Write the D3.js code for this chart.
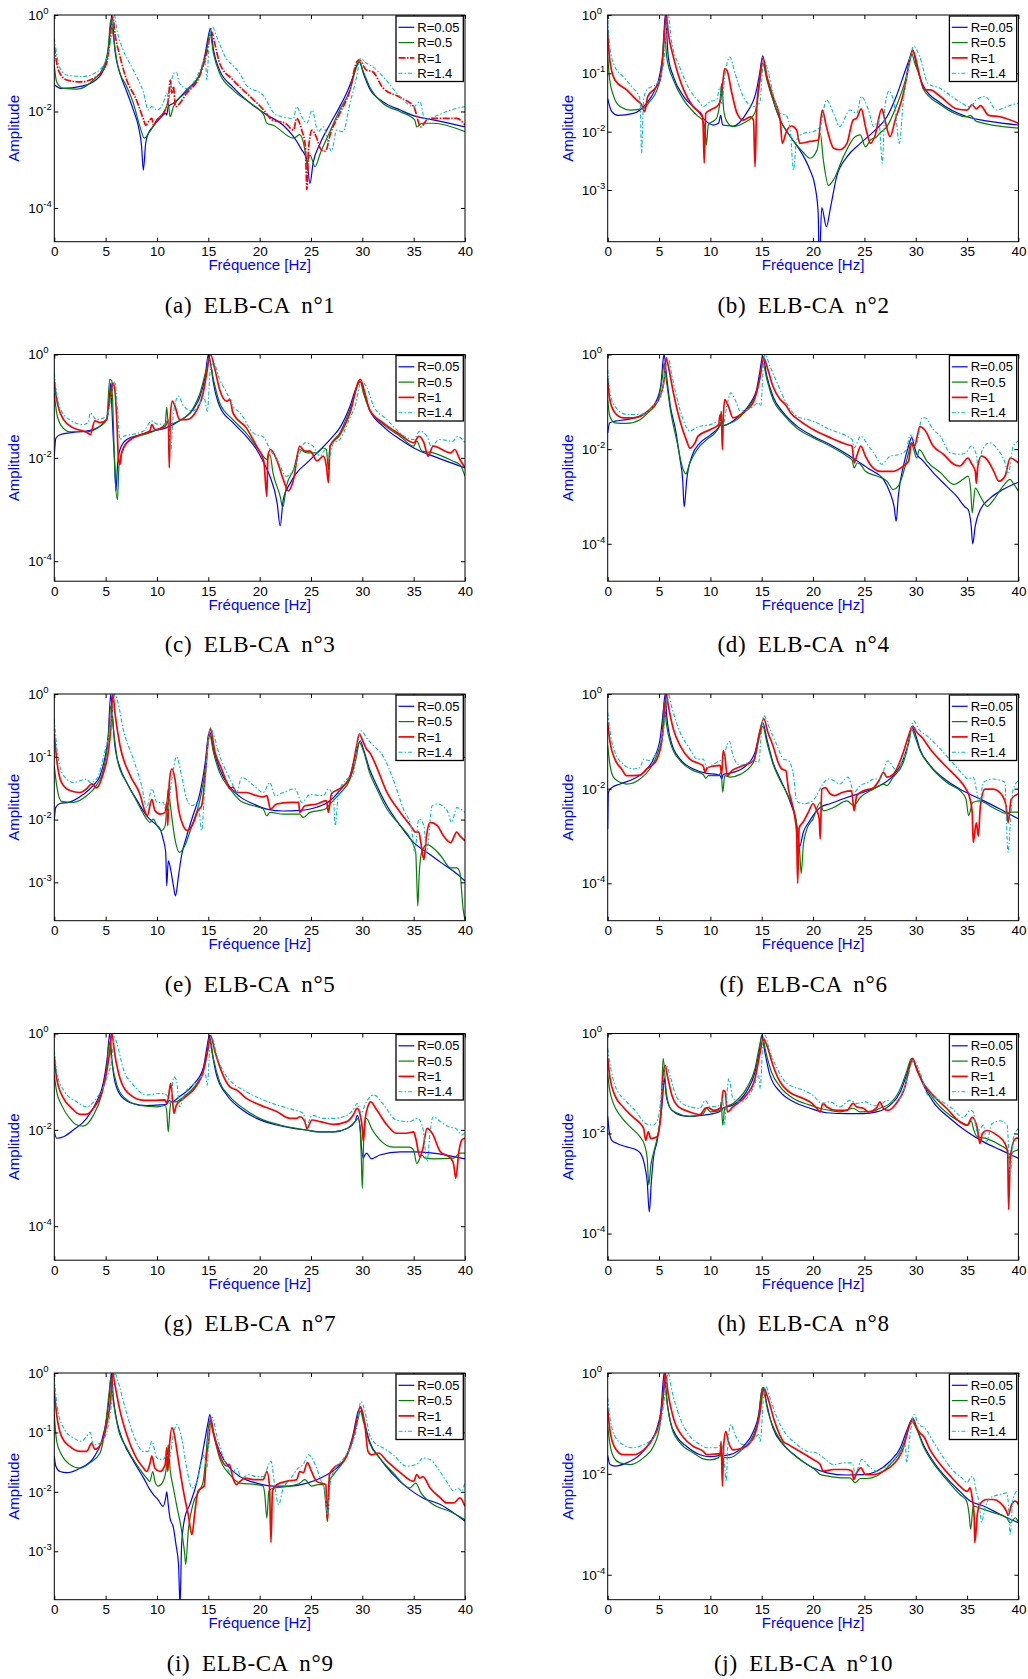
<!DOCTYPE html>
<html><head><meta charset="utf-8">
<script src="https://cdn.jsdelivr.net/npm/d3@7"></script>
<style>
html,body{margin:0;padding:0;background:#fff;}
svg{display:block;}
</style>
</head><body>
<svg id="fig" width="1028" height="1679"></svg>
<script>
// ---------- DATA : [frequency Hz, amplitude] ----------
const elb1_r005 = [[0,0.036],[0.7,0.030],[2.8,0.034],[4.4,0.053],[5.1,0.117],[5.4,0.36],[5.6,1.0],[5.9,0.19],[6.4,0.062],[7.05,0.026],[7.7,0.0107],[8.2,0.0048],[8.5,0.0019],[8.67,0.00061],[8.9,0.0022],[9.15,0.0035],[9.6,0.0048],[10.3,0.0072],[10.85,0.0091],[10.95,0.0085],[11.1,0.0126],[11.6,0.0148],[12.9,0.028],[14.2,0.062],[14.7,0.16],[15.0,0.36],[15.2,0.53],[15.5,0.19],[16.1,0.072],[17.4,0.032],[19.1,0.0148],[20.7,0.0085],[22.3,0.0052],[23.3,0.0030],[24.1,0.0016],[24.6,0.00099],[24.9,0.00032],[25.2,0.00084],[25.9,0.0022],[26.9,0.0057],[27.8,0.0126],[28.6,0.028],[29.1,0.053],[29.4,0.085],[29.7,0.108],[30.1,0.062],[30.7,0.030],[32,0.016],[33.7,0.0107],[35.3,0.0078],[36.9,0.0067],[40,0.0048]];
const elb1_r05 = [[0,0.092],[0.23,0.041],[0.9,0.030],[2.2,0.029],[3.8,0.045],[4.8,0.085],[5.26,0.22],[5.5,0.8],[5.75,0.36],[6.2,0.085],[7.05,0.033],[7.7,0.0148],[8.35,0.0048],[8.77,0.0028],[9.3,0.0038],[10,0.0067],[10.8,0.0107],[11.1,0.0148],[11.27,0.0078],[11.6,0.0126],[12.9,0.026],[14.2,0.062],[14.84,0.19],[15.16,0.42],[15.5,0.16],[16.1,0.062],[17.4,0.028],[19.1,0.0148],[20.4,0.0085],[20.7,0.0057],[21.3,0.0052],[23.3,0.0028],[23.9,0.0033],[24.4,0.0016],[24.6,0.00084],[24.9,0.00125],[25.4,0.00072],[25.9,0.00135],[26.9,0.0041],[27.8,0.0107],[28.8,0.028],[29.45,0.085],[29.7,0.108],[30.1,0.067],[30.7,0.033],[32,0.0148],[33.7,0.0099],[35.1,0.0067],[35.3,0.0048],[35.8,0.0057],[36.9,0.0057],[40,0.0038]];
const elb1_r1 = [[0,0.22],[0.4,0.072],[1.2,0.045],[2.5,0.041],[4.1,0.053],[5.1,0.1],[5.4,0.26],[5.7,0.92],[5.9,0.42],[6.4,0.137],[7.05,0.045],[8.0,0.0173],[8.7,0.0067],[8.9,0.0052],[9.3,0.0067],[9.5,0.0072],[9.65,0.0052],[10,0.0067],[10.8,0.0107],[11.1,0.0173],[11.3,0.045],[11.45,0.024],[11.6,0.033],[11.8,0.0126],[12.9,0.024],[14.2,0.057],[14.84,0.16],[15.3,0.45],[15.7,0.22],[16.1,0.1],[17.4,0.045],[19.1,0.020],[20.4,0.0107],[21.2,0.0067],[22.5,0.0057],[23.3,0.0041],[23.6,0.0072],[24.1,0.0041],[24.45,0.0019],[24.6,0.00024],[24.75,0.0016],[25.1,0.0041],[25.5,0.0030],[26.0,0.0016],[26.4,0.0015],[26.9,0.0035],[27.8,0.0091],[28.8,0.028],[29.4,0.1],[29.7,0.117],[30.4,0.072],[31.0,0.067],[32,0.031],[33.7,0.0195],[35,0.0126],[35.7,0.0048],[36.3,0.0067],[37,0.0072],[39.2,0.0072],[40,0.0052]];
const elb1_r14 = [[0,0.33],[0.55,0.08],[1.2,0.057],[2.8,0.053],[4.4,0.072],[5.4,0.22],[5.85,1.0],[6.1,0.49],[6.7,0.19],[7.7,0.072],[8.7,0.024],[9.15,0.0107],[9.5,0.0126],[10,0.0107],[10.6,0.0148],[10.95,0.024],[11.1,0.0173],[11.6,0.062],[11.9,0.065],[12.2,0.038],[12.9,0.030],[14.2,0.072],[14.7,0.126],[14.85,0.045],[15.1,0.3],[15.4,0.57],[15.8,0.36],[16.8,0.12],[17.4,0.09],[18.1,0.06],[18.7,0.035],[20.3,0.022],[21.6,0.0085],[23.3,0.0072],[23.6,0.0126],[24.1,0.0078],[24.6,0.0057],[25.1,0.0107],[25.7,0.0038],[26.2,0.0048],[27,0.0015],[27.5,0.0041],[28.1,0.0038],[28.8,0.0148],[29.45,0.053],[29.8,0.126],[30.4,0.1],[31,0.085],[32.3,0.045],[33.7,0.020],[35,0.0126],[35.6,0.016],[36.1,0.0067],[37,0.0078],[38.6,0.0107],[40,0.0126]];

const elb2_r005 = [[0,0.037],[0.4,0.022],[1.0,0.019],[2.5,0.0206],[3.8,0.031],[4.6,0.052],[5.1,0.1],[5.4,0.25],[5.6,1.0],[5.9,0.19],[6.4,0.088],[7.4,0.040],[8.7,0.0235],[9.6,0.015],[10.3,0.013],[10.8,0.0139],[11.0,0.019],[11.2,0.013],[12.2,0.0125],[13.5,0.0206],[14.5,0.052],[14.8,0.1],[15.1,0.2],[15.5,0.088],[16.1,0.035],[16.8,0.0158],[17.8,0.0082],[19.1,0.0037],[19.7,0.0022],[20.2,0.00114],[20.5,0.0004],[20.6,0.00005],[20.85,0.0005],[21.3,0.000235],[21.7,0.0005],[22.3,0.0017],[23.3,0.0037],[24.6,0.0063],[25.9,0.01],[27.2,0.018],[28.1,0.040],[29,0.114],[29.45,0.19],[29.7,0.25],[30.1,0.13],[30.7,0.063],[32.4,0.031],[35,0.018],[37.2,0.015],[40,0.013]];
const elb2_r05 = [[0,0.19],[0.2,0.077],[0.55,0.042],[1.2,0.027],[2.2,0.0235],[3.5,0.025],[4.1,0.033],[4.8,0.052],[5.3,0.13],[5.5,0.55],[5.75,0.19],[6.4,0.077],[7.4,0.035],[8.7,0.019],[9.3,0.015],[9.5,0.0107],[9.6,0.0058],[9.8,0.013],[10.6,0.017],[10.95,0.035],[11.1,0.067],[11.3,0.0235],[11.6,0.015],[12.2,0.0122],[13.2,0.0139],[14.2,0.019],[14.5,0.027],[14.8,0.067],[15.1,0.15],[15.5,0.077],[16.1,0.035],[16.8,0.0158],[17.8,0.0082],[19.1,0.0043],[19.7,0.0035],[20.4,0.0049],[20.7,0.0094],[21.0,0.0033],[21.5,0.0012],[22,0.0015],[22.95,0.0037],[24.1,0.0082],[24.6,0.0088],[25.1,0.0055],[25.6,0.0072],[26.2,0.0082],[26.5,0.0094],[27.2,0.0122],[28.1,0.027],[29,0.077],[29.6,0.22],[29.9,0.15],[30.4,0.088],[30.7,0.055],[32.4,0.029],[35,0.018],[35.3,0.019],[35.9,0.015],[40,0.0115]];
const elb2_r1 = [[0,0.49],[0.2,0.17],[0.7,0.077],[1.85,0.052],[2.8,0.035],[3.3,0.029],[3.6,0.022],[3.9,0.040],[4.6,0.055],[5.1,0.077],[5.4,0.22],[5.7,1.0],[5.9,0.49],[6.4,0.19],[7.4,0.052],[8.3,0.027],[9.2,0.019],[9.3,0.0122],[9.4,0.0029],[9.55,0.0206],[10.0,0.0235],[10.8,0.029],[11.05,0.040],[11.2,0.067],[11.4,0.12],[11.6,0.114],[12.1,0.045],[12.6,0.0206],[13.2,0.0158],[13.9,0.018],[14.2,0.0158],[14.35,0.0025],[14.5,0.0235],[14.8,0.077],[15.1,0.18],[15.5,0.088],[16.1,0.040],[16.8,0.0158],[17.0,0.0063],[17.4,0.01],[17.9,0.0125],[18.4,0.0107],[18.7,0.0063],[19.7,0.0068],[20.5,0.0072],[20.9,0.0235],[21.3,0.0122],[22,0.0052],[22.6,0.0049],[23.3,0.0063],[23.9,0.0158],[24.25,0.017],[24.7,0.0245],[25.1,0.0122],[25.6,0.0063],[26,0.0082],[26.7,0.0245],[27,0.0158],[27.5,0.0082],[28,0.0158],[28.8,0.045],[29.45,0.17],[29.7,0.25],[30.1,0.15],[30.4,0.088],[30.9,0.052],[31.4,0.052],[32.4,0.040],[34,0.0245],[35,0.0235],[35.5,0.029],[35.9,0.0245],[36.3,0.028],[37.1,0.019],[38.2,0.018],[40,0.0139]];
const elb2_r14 = [[0,0.82],[0.2,0.29],[0.7,0.13],[1.5,0.088],[2.5,0.055],[3.0,0.042],[3.15,0.035],[3.3,0.0043],[3.5,0.035],[3.8,0.052],[4.8,0.067],[5.4,0.13],[5.9,1.0],[6.2,0.37],[7.0,0.13],[8.0,0.052],[9.0,0.031],[9.3,0.027],[10,0.033],[10.6,0.035],[10.95,0.059],[11.1,0.029],[11.4,0.088],[11.9,0.19],[12.4,0.1],[13.2,0.040],[14.2,0.027],[14.8,0.031],[15.2,0.17],[15.5,0.13],[16.1,0.045],[16.8,0.0206],[17.4,0.019],[17.8,0.0094],[18.1,0.0022],[18.4,0.0072],[19.1,0.0094],[20,0.01],[20.7,0.0122],[21.3,0.035],[22,0.0206],[22.6,0.0122],[23.6,0.0235],[24.25,0.0206],[24.7,0.040],[25.4,0.0235],[25.9,0.0122],[26.4,0.0158],[26.75,0.0029],[27,0.027],[27.4,0.050],[28,0.0235],[28.4,0.0063],[28.8,0.035],[29.3,0.13],[29.8,0.29],[30.4,0.19],[31.2,0.067],[32.4,0.055],[34,0.035],[35.3,0.027],[35.9,0.035],[36.75,0.040],[37.9,0.0235],[38.9,0.027],[40,0.031]];

const elb3_r005 = [[0,0.0108],[0.15,0.024],[0.55,0.028],[1.85,0.031],[3.5,0.034],[4.45,0.041],[5.1,0.055],[5.35,0.135],[5.5,0.28],[5.6,0.1],[5.75,0.0226],[5.9,0.0069],[6.0,0.0023],[6.15,0.0069],[6.4,0.0145],[7.05,0.0226],[8.35,0.028],[9.6,0.033],[10.9,0.038],[12.2,0.052],[13.5,0.086],[14.2,0.156],[14.7,0.38],[15.0,1.0],[15.15,0.8],[15.5,0.28],[16.1,0.1],[17.4,0.048],[18.7,0.026],[19.7,0.0145],[20.4,0.008],[21,0.0044],[21.7,0.00135],[22.0,0.00048],[22.3,0.00156],[23,0.0033],[23.6,0.0051],[24.6,0.008],[25.6,0.0125],[26.85,0.0226],[27.8,0.038],[28.8,0.1],[29.45,0.24],[29.8,0.3],[30.1,0.21],[30.7,0.086],[32,0.041],[33.7,0.0226],[35.3,0.0145],[36.9,0.0108],[40,0.0064]];
const elb3_r05 = [[0,0.18],[0.23,0.074],[0.7,0.041],[1.5,0.032],[3.15,0.032],[4.45,0.041],[5.1,0.055],[5.4,0.33],[5.6,0.31],[5.75,0.048],[5.9,0.0051],[6.15,0.00156],[6.3,0.0069],[6.7,0.0145],[7.4,0.0226],[8.7,0.028],[10,0.035],[10.8,0.045],[10.95,0.095],[11.1,0.045],[12.2,0.052],[13.5,0.09],[14.2,0.18],[14.8,0.51],[15.1,0.8],[15.5,0.33],[16.1,0.116],[17.4,0.055],[18.7,0.030],[20,0.0135],[20.7,0.0093],[21,0.0115],[21.3,0.0051],[22,0.0018],[22.25,0.0011],[22.6,0.0028],[23.3,0.0059],[23.9,0.0145],[24.6,0.0125],[25.6,0.0125],[26.2,0.0155],[26.5,0.0145],[26.7,0.0059],[26.85,0.0168],[27.8,0.030],[28.8,0.086],[29.8,0.3],[30.1,0.18],[30.7,0.086],[32,0.045],[33.7,0.026],[35,0.0168],[35.3,0.021],[35.8,0.0135],[36.9,0.0125],[38.8,0.0087],[39.5,0.0074],[40,0.0044]];
const elb3_r1 = [[0,0.30],[0.23,0.135],[0.9,0.055],[1.85,0.038],[2.8,0.033],[3.3,0.030],[3.5,0.028],[3.95,0.052],[4.45,0.048],[5.1,0.055],[5.4,0.135],[5.7,0.28],[5.85,0.24],[6.1,0.048],[6.25,0.0093],[6.4,0.0075],[6.55,0.0125],[7.05,0.0195],[8.35,0.028],[9.3,0.033],[9.5,0.044],[9.8,0.035],[10.8,0.041],[11.1,0.055],[11.2,0.0064],[11.3,0.064],[11.5,0.125],[11.75,0.1],[12.2,0.055],[12.9,0.055],[13.9,0.086],[14.5,0.18],[14.85,0.44],[15.2,1.0],[15.65,0.51],[16.1,0.21],[16.8,0.125],[17.1,0.135],[17.4,0.074],[18.7,0.038],[19.7,0.0168],[20.4,0.0087],[20.7,0.0018],[20.8,0.0108],[21.05,0.0145],[21.65,0.0093],[22.3,0.0038],[22.8,0.0023],[23.3,0.0038],[23.9,0.0168],[24.4,0.0135],[24.9,0.0135],[25.6,0.0087],[26.2,0.0108],[26.5,0.0069],[26.7,0.0033],[26.85,0.0168],[27.8,0.028],[28.8,0.074],[29.8,0.33],[30.25,0.18],[30.7,0.086],[32,0.048],[33.7,0.028],[35,0.0195],[35.5,0.026],[36,0.0195],[36.4,0.0108],[36.9,0.0168],[38.6,0.0125],[39.0,0.0145],[39.5,0.0093],[40,0.0064]];
const elb3_r14 = [[0,0.44],[0.4,0.116],[1.2,0.06],[2.8,0.044],[3.3,0.048],[3.5,0.074],[4.1,0.055],[5.1,0.064],[5.6,0.17],[5.9,0.3],[6.15,0.086],[6.4,0.0226],[6.7,0.026],[7.4,0.028],[8.7,0.033],[9.5,0.052],[10,0.045],[10.8,0.045],[11.1,0.055],[11.35,0.0145],[11.6,0.074],[12.1,0.156],[12.6,0.1],[13.5,0.08],[14.2,0.116],[14.6,0.145],[14.9,0.08],[15.2,0.51],[15.5,0.69],[16.1,0.33],[16.8,0.18],[17.4,0.1],[18.1,0.074],[19.4,0.030],[20.4,0.025],[21,0.0145],[21.7,0.0093],[22.6,0.0044],[23.3,0.0059],[23.9,0.012],[24.4,0.0195],[25.2,0.0168],[25.9,0.0108],[26.4,0.0145],[26.7,0.0093],[27.2,0.0195],[27.8,0.0226],[28.8,0.06],[29.3,0.1],[29.9,0.3],[30.4,0.24],[31.1,0.1],[32.4,0.055],[33.7,0.030],[35,0.0226],[35.6,0.033],[36.3,0.026],[36.7,0.0168],[37.5,0.0226],[38.8,0.021],[39.3,0.026],[40,0.0195]];

const elb4_r005 = [[0,0.022],[0.2,0.036],[0.7,0.039],[1.85,0.042],[3.15,0.05],[4.1,0.069],[4.8,0.112],[5.2,0.25],[5.4,0.78],[5.5,1.0],[5.7,0.41],[6.1,0.081],[6.6,0.026],[7.05,0.006],[7.3,0.0023],[7.45,0.0006],[7.7,0.0023],[8.2,0.0071],[9.0,0.0136],[10,0.02],[10.8,0.029],[10.95,0.033],[11.1,0.031],[11.6,0.033],[12.6,0.046],[13.9,0.095],[14.5,0.18],[14.8,0.41],[15.1,0.92],[15.5,0.35],[16.1,0.13],[17.1,0.059],[18.4,0.031],[20,0.0188],[21.65,0.0125],[23.3,0.0078],[24.6,0.0051],[25.55,0.0037],[26.85,0.0023],[27.5,0.0012],[27.9,0.0006],[28.1,0.0003],[28.3,0.001],[28.8,0.0044],[29.3,0.0116],[29.6,0.0175],[29.9,0.0107],[30.1,0.0078],[30.6,0.006],[31.7,0.0032],[33,0.00165],[34,0.001],[34.8,0.0006],[35.1,0.00053],[35.4,0.00024],[35.55,0.0001],[35.8,0.00024],[36.3,0.00053],[37.2,0.0009],[38.5,0.0014],[40,0.002]];
const elb4_r05 = [[0,0.112],[0.2,0.05],[0.7,0.036],[1.85,0.035],[3.15,0.042],[4.1,0.064],[4.8,0.095],[5.3,0.30],[5.5,0.67],[5.7,0.30],[6.1,0.069],[6.7,0.016],[7.35,0.0037],[7.6,0.003],[8.0,0.0051],[8.7,0.0098],[9.65,0.016],[10.6,0.024],[10.95,0.033],[11.05,0.064],[11.2,0.031],[11.6,0.033],[12.6,0.042],[13.9,0.09],[14.5,0.155],[14.8,0.30],[15.1,0.67],[15.5,0.30],[16.1,0.112],[17.1,0.054],[18.4,0.028],[20,0.0175],[21.65,0.0116],[23.3,0.0071],[23.8,0.0059],[24.0,0.004],[24.3,0.0051],[24.6,0.0048],[25.1,0.0034],[26.2,0.0027],[27.2,0.0021],[27.8,0.0014],[28.3,0.00165],[28.8,0.0032],[29.3,0.0084],[29.55,0.0136],[29.8,0.0098],[30.1,0.0065],[30.35,0.0098],[31.1,0.0055],[32.4,0.0032],[33.7,0.0018],[34.6,0.0023],[35.1,0.0027],[35.35,0.0014],[35.5,0.00045],[35.8,0.0015],[36.3,0.001],[36.95,0.00062],[37.6,0.00086],[38.5,0.00165],[39.2,0.0023],[39.5,0.0019],[40,0.0013]];
const elb4_r1 = [[0,0.32],[0.2,0.112],[0.7,0.059],[1.5,0.046],[2.5,0.046],[3.5,0.054],[4.45,0.081],[5.1,0.13],[5.5,0.30],[5.7,0.85],[5.9,0.57],[6.4,0.155],[7.05,0.039],[7.7,0.0148],[8.0,0.0105],[8.5,0.0136],[8.8,0.0188],[10,0.026],[10.8,0.033],[10.95,0.054],[11.1,0.031],[11.17,0.0098],[11.25,0.042],[11.4,0.112],[11.75,0.081],[12.2,0.046],[13.2,0.059],[14.2,0.1],[14.8,0.30],[15.2,0.85],[15.6,0.48],[16.1,0.21],[16.8,0.112],[17.3,0.088],[17.8,0.059],[18.75,0.039],[20,0.026],[21.65,0.0175],[23.3,0.0125],[23.8,0.0116],[24.0,0.0051],[24.25,0.0071],[24.65,0.0116],[25.1,0.0071],[25.55,0.0048],[26.5,0.0034],[27.8,0.0034],[28.8,0.0044],[29.3,0.0055],[29.6,0.0136],[29.9,0.0116],[30.15,0.0188],[30.4,0.03],[30.9,0.025],[31.7,0.0116],[32.7,0.0078],[33.7,0.0048],[34.3,0.0044],[35.1,0.0065],[35.4,0.0051],[35.8,0.0034],[35.9,0.0019],[36.05,0.0044],[36.4,0.0071],[36.95,0.006],[37.6,0.0034],[38.1,0.0021],[38.7,0.0027],[39.2,0.0065],[40,0.0051]];
const elb4_r14 = [[0,0.48],[0.23,0.155],[0.7,0.081],[1.85,0.054],[3.15,0.054],[4.45,0.081],[5.3,0.18],[5.75,0.67],[5.95,0.78],[6.2,0.41],[6.7,0.13],[7.35,0.042],[8.0,0.024],[8.7,0.029],[10,0.033],[10.95,0.039],[11.25,0.033],[11.6,0.081],[12.0,0.155],[12.4,0.112],[12.9,0.064],[13.9,0.073],[14.7,0.095],[14.9,0.081],[15.2,0.78],[15.3,1.0],[15.8,0.57],[16.5,0.25],[17.4,0.095],[18.4,0.05],[20,0.039],[21.65,0.026],[23.3,0.0188],[23.8,0.016],[24,0.0107],[24.65,0.0188],[25.4,0.0116],[25.9,0.0084],[26.7,0.0048],[27.5,0.0071],[28.5,0.0078],[29.1,0.0098],[29.45,0.02],[29.8,0.016],[30.1,0.0136],[30.6,0.046],[30.9,0.046],[31.7,0.026],[32.4,0.0188],[33.35,0.0084],[34.3,0.0078],[34.9,0.0084],[35.4,0.0116],[35.9,0.0078],[36.05,0.0044],[36.5,0.0098],[37.2,0.0136],[38,0.0098],[38.7,0.0051],[39,0.003],[39.5,0.0116],[40,0.0148]];

const elb5_r005 = [[0,0.0097],[0.13,0.0155],[0.55,0.018],[1.5,0.019],[2.8,0.025],[3.8,0.035],[4.45,0.05],[4.9,0.092],[5.25,0.217],[5.5,1.0],[5.65,0.51],[5.9,0.15],[6.4,0.067],[7.05,0.039],[8.0,0.021],[9,0.0115],[9.65,0.009],[10.3,0.0071],[10.6,0.0049],[10.85,0.003],[10.95,0.00088],[11.1,0.0022],[11.27,0.0018],[11.6,0.00088],[11.8,0.00061],[12.1,0.00128],[12.4,0.0027],[12.9,0.0055],[13.5,0.0115],[14.2,0.027],[14.7,0.081],[15.0,0.217],[15.15,0.245],[15.5,0.133],[16.1,0.064],[17.1,0.033],[18.1,0.023],[19.4,0.0177],[20.7,0.0147],[22.3,0.0137],[23.9,0.014],[25.55,0.0157],[26.85,0.02],[27.8,0.029],[28.8,0.05],[29.45,0.125],[29.8,0.18],[30.1,0.133],[30.7,0.064],[31.4,0.035],[32.4,0.0166],[33.7,0.008],[35,0.0043],[36.3,0.003],[37.6,0.0021],[38.9,0.0015],[40,0.00105]];
const elb5_r05 = [[0,0.072],[0.23,0.035],[0.7,0.0195],[1.85,0.0188],[3.15,0.024],[4.1,0.035],[4.8,0.064],[5.25,0.19],[5.5,0.65],[5.75,0.28],[6.2,0.081],[7.05,0.039],[8,0.02],[9,0.0102],[9.3,0.009],[9.65,0.0102],[10,0.008],[10.45,0.0067],[10.8,0.008],[11.0,0.021],[11.1,0.031],[11.27,0.0188],[11.75,0.0049],[12.2,0.003],[12.7,0.0038],[13.4,0.008],[14.2,0.021],[14.7,0.064],[15.0,0.19],[15.15,0.217],[15.5,0.118],[16.1,0.056],[17.1,0.031],[18.1,0.02],[19.4,0.0166],[20.35,0.0147],[20.7,0.0115],[21,0.013],[22.3,0.0122],[23.9,0.0122],[24.25,0.0108],[24.9,0.013],[25.9,0.014],[26.4,0.0147],[26.85,0.0177],[27.8,0.026],[28.8,0.044],[29.45,0.104],[29.7,0.17],[30.1,0.125],[30.7,0.056],[31.4,0.031],[32.4,0.0147],[33.7,0.008],[34.7,0.0049],[35.2,0.003],[35.3,0.00113],[35.4,0.00042],[35.55,0.00144],[35.8,0.0031],[36.3,0.004],[37.6,0.0027],[38.6,0.0017],[39.2,0.0017],[39.5,0.00144],[39.8,0.0004],[40,0.00025]];
const elb5_r1 = [[0,0.23],[0.23,0.092],[0.7,0.039],[1.5,0.029],[2.5,0.027],[3.15,0.031],[3.65,0.037],[4.1,0.032],[4.8,0.056],[5.25,0.118],[5.5,0.28],[5.7,1.0],[5.9,0.51],[6.4,0.15],[7.4,0.05],[8.35,0.025],[8.8,0.0139],[9.05,0.0115],[9.5,0.021],[9.8,0.0139],[10.3,0.0122],[10.8,0.013],[10.95,0.0188],[11.05,0.008],[11.2,0.039],[11.45,0.064],[11.75,0.044],[12.1,0.0147],[12.55,0.008],[12.95,0.0067],[13.5,0.0085],[14,0.0139],[14.35,0.0166],[14.7,0.05],[15,0.19],[15.2,0.28],[15.65,0.118],[16.3,0.064],[16.8,0.039],[17.1,0.031],[17.4,0.033],[17.75,0.027],[18.7,0.027],[19.7,0.024],[20.35,0.023],[20.7,0.024],[21.05,0.0147],[21.65,0.0177],[22.95,0.0188],[23.8,0.0188],[23.9,0.013],[24.4,0.0166],[25.55,0.0177],[26.5,0.02],[26.7,0.013],[27,0.026],[27.8,0.031],[28.8,0.047],[29.45,0.15],[29.7,0.23],[30.1,0.17],[30.4,0.133],[30.7,0.118],[31.4,0.068],[32.4,0.027],[33.7,0.013],[34.7,0.008],[35.2,0.0063],[35.5,0.0063],[35.7,0.0043],[36,0.0023],[36.25,0.0055],[36.6,0.009],[37.3,0.008],[37.9,0.0055],[38.6,0.0043],[39.2,0.0063],[39.5,0.0055],[40,0.0046]];
const elb5_r14 = [[0,0.40],[0.3,0.118],[0.9,0.05],[1.85,0.039],[3.15,0.044],[3.5,0.039],[4.1,0.044],[4.9,0.118],[5.6,0.40],[5.9,1.0],[6.2,0.74],[6.7,0.28],[7.7,0.092],[8.5,0.035],[9,0.0155],[9.5,0.031],[10,0.0188],[10.6,0.0188],[10.95,0.0122],[11.45,0.044],[11.9,0.1],[12.4,0.05],[12.9,0.021],[13.4,0.0166],[14,0.0188],[14.35,0.0067],[14.7,0.044],[15.2,0.29],[15.5,0.23],[16.1,0.104],[16.8,0.056],[17.4,0.035],[17.75,0.027],[18.25,0.047],[19.4,0.035],[20.35,0.027],[21,0.039],[21.5,0.024],[22.3,0.027],[23.45,0.031],[24.1,0.0188],[24.9,0.025],[26.2,0.024],[26.7,0.031],[27.2,0.021],[27.35,0.008],[27.7,0.027],[28.5,0.044],[29.1,0.05],[29.45,0.133],[29.9,0.26],[30.4,0.2],[31.1,0.15],[32,0.104],[33,0.044],[34,0.0147],[34.8,0.0071],[35.1,0.003],[35.5,0.0102],[36,0.008],[36.25,0.003],[36.8,0.0166],[37.3,0.0177],[38.25,0.014],[38.7,0.009],[39.2,0.0155],[40,0.013]];

const elb6_r005 = [[0,0.0014],[0.07,0.0084],[0.4,0.0105],[1.2,0.0125],[2.5,0.016],[3.5,0.022],[4.45,0.042],[5.1,0.112],[5.4,0.41],[5.6,1.0],[5.75,0.35],[6.2,0.095],[7.05,0.042],[8.35,0.026],[9.65,0.021],[10.6,0.02],[10.95,0.0188],[11.1,0.016],[11.25,0.02],[12.2,0.022],[13.5,0.031],[14.35,0.059],[14.8,0.155],[15.1,0.25],[15.5,0.112],[16.1,0.036],[16.8,0.016],[17.4,0.0084],[17.9,0.0044],[18.3,0.0023],[18.7,0.0006],[19.05,0.0012],[19.55,0.0019],[20,0.0027],[20.7,0.004],[21.65,0.0048],[23.3,0.0065],[24.9,0.0084],[26.5,0.0116],[27.8,0.0188],[28.8,0.042],[29.3,0.095],[29.6,0.2],[29.9,0.155],[30.4,0.069],[31.4,0.031],[33,0.0148],[34.6,0.009],[36.3,0.006],[38.2,0.0037],[40,0.0023]];
const elb6_r05 = [[0,0.081],[0.23,0.031],[0.55,0.0175],[1.2,0.0136],[1.85,0.0125],[3.15,0.016],[4.1,0.026],[4.9,0.059],[5.3,0.13],[5.5,0.67],[5.7,0.25],[6.2,0.081],[7.05,0.039],[8.35,0.024],[9.3,0.02],[9.55,0.0165],[9.8,0.0188],[10.8,0.0188],[11.05,0.022],[11.2,0.0084],[11.4,0.0188],[11.9,0.0175],[12.9,0.02],[14.2,0.036],[14.8,0.13],[15.1,0.21],[15.5,0.095],[16.1,0.033],[16.8,0.0148],[17.4,0.0084],[18.1,0.0037],[18.4,0.0019],[18.7,0.00045],[18.85,0.00016],[19.05,0.00062],[19.4,0.0014],[20,0.0023],[20.7,0.0051],[21.0,0.0034],[22,0.004],[23.3,0.0055],[23.95,0.0044],[24.6,0.0065],[25.9,0.0098],[26.5,0.0116],[26.85,0.0125],[27.2,0.0116],[27.8,0.0175],[28.8,0.036],[29.3,0.088],[29.6,0.18],[29.9,0.13],[30.4,0.064],[31.4,0.03],[33,0.0136],[34.6,0.0078],[34.9,0.006],[35.15,0.0027],[35.55,0.0051],[36.2,0.0055],[37.5,0.004],[38.8,0.003],[39.3,0.0032],[40,0.0032]];
const elb6_r1 = [[0,0.25],[0.23,0.095],[0.7,0.042],[1.35,0.026],[1.85,0.0188],[3.15,0.0193],[3.8,0.026],[4.3,0.031],[4.8,0.042],[5.3,0.112],[5.5,0.30],[5.7,1.0],[5.9,0.57],[6.4,0.18],[7.05,0.081],[8.0,0.042],[9,0.033],[9.3,0.03],[9.5,0.022],[9.65,0.027],[10.3,0.03],[10.95,0.031],[11.1,0.02],[11.25,0.064],[11.4,0.05],[11.65,0.0188],[12.1,0.024],[12.9,0.029],[14.2,0.039],[14.8,0.155],[15.2,0.30],[15.6,0.155],[16.1,0.081],[16.6,0.036],[16.95,0.026],[17.35,0.024],[17.6,0.0098],[17.9,0.0055],[18.25,0.0023],[18.4,0.0012],[18.5,0.0001],[18.65,0.0015],[19.05,0.002],[19.55,0.0032],[20,0.0048],[20.3,0.0037],[20.6,0.0023],[20.7,0.00086],[20.85,0.0098],[21.2,0.0105],[21.65,0.0078],[22.1,0.0071],[22.9,0.0084],[23.75,0.009],[24,0.0034],[24.25,0.0071],[24.9,0.009],[25.9,0.0105],[26.5,0.016],[26.85,0.022],[27.2,0.0175],[27.8,0.02],[28.8,0.059],[29.3,0.13],[29.7,0.21],[30.1,0.155],[30.6,0.122],[31.4,0.069],[32.4,0.039],[33.35,0.024],[34.3,0.0148],[34.9,0.0098],[35.2,0.0071],[35.5,0.0032],[35.6,0.00073],[35.9,0.0019],[36.1,0.001],[36.3,0.0044],[36.75,0.0098],[37.5,0.0098],[38.3,0.0078],[38.8,0.0044],[39.0,0.0019],[39.3,0.006],[40,0.0078]];
const elb6_r14 = [[0,0.41],[0.3,0.13],[0.7,0.059],[1.5,0.033],[2.5,0.026],[3.15,0.028],[3.5,0.042],[4.1,0.039],[4.8,0.059],[5.4,0.155],[5.9,1.0],[6.2,0.57],[7.05,0.155],[8.0,0.069],[8.7,0.042],[9.3,0.042],[9.65,0.028],[10.3,0.033],[10.95,0.039],[11.25,0.042],[11.6,0.081],[11.85,0.1],[12.2,0.05],[12.9,0.031],[14.2,0.039],[14.7,0.036],[15,0.18],[15.2,0.35],[15.8,0.18],[16.5,0.081],[17.1,0.042],[17.6,0.039],[18.1,0.0188],[18.4,0.0055],[19.05,0.0048],[19.7,0.0051],[20.35,0.0071],[20.85,0.0116],[21.5,0.016],[22,0.0148],[22.6,0.0125],[23.4,0.0175],[24,0.0084],[24.6,0.0116],[25.4,0.0136],[25.9,0.016],[26.5,0.016],[27.3,0.039],[28,0.026],[28.8,0.042],[29.45,0.122],[29.8,0.27],[30.3,0.18],[31.1,0.13],[32.4,0.069],[33.7,0.033],[34.6,0.02],[35.1,0.016],[35.6,0.0175],[35.9,0.0098],[36.2,0.0051],[36.6,0.0136],[37.5,0.016],[38.7,0.0136],[38.8,0.0032],[39.0,0.00045],[39.2,0.00165],[39.5,0.0098],[40,0.0148]];

const elb7_r005 = [[0,0.0091],[0.23,0.0067],[0.9,0.0072],[1.85,0.0099],[3.15,0.0173],[4.1,0.038],[4.8,0.1],[5.15,0.30],[5.4,1.0],[5.6,0.30],[5.9,0.1],[6.55,0.049],[7.7,0.035],[9,0.032],[10.3,0.033],[10.95,0.034],[11.2,0.041],[11.4,0.038],[12.2,0.049],[13.5,0.085],[14.5,0.19],[14.9,0.57],[15.1,0.92],[15.3,0.49],[15.8,0.137],[16.8,0.053],[18.1,0.028],[19.7,0.0173],[21.65,0.0126],[23.3,0.0107],[24.6,0.0099],[25.9,0.0091],[27.2,0.0091],[28.5,0.0107],[29.3,0.0148],[29.5,0.020],[29.8,0.0107],[29.9,0.0048],[30.1,0.0026],[30.25,0.003],[30.4,0.0033],[30.9,0.0025],[31.7,0.003],[33.7,0.0035],[35,0.0035],[36.9,0.0033],[40,0.0025]];
const elb7_r05 = [[0,0.137],[0.23,0.062],[0.7,0.033],[1.5,0.0173],[2.2,0.0126],[2.8,0.012],[3.8,0.020],[4.6,0.053],[5.1,0.19],[5.35,0.67],[5.6,0.26],[6.1,0.085],[6.9,0.045],[8.35,0.032],[10,0.030],[10.8,0.032],[10.95,0.024],[11.1,0.0091],[11.27,0.028],[11.4,0.038],[11.75,0.038],[12.6,0.049],[13.9,0.092],[14.5,0.16],[15,0.49],[15.15,0.78],[15.5,0.30],[16.1,0.1],[17.1,0.049],[18.4,0.028],[20,0.0173],[22,0.0126],[23.6,0.0107],[24.6,0.0099],[25.55,0.0091],[27.2,0.0091],[28.5,0.0107],[29.3,0.0148],[29.6,0.0173],[29.8,0.0091],[29.9,0.0026],[30.0,0.00061],[30.15,0.0078],[30.4,0.0173],[30.9,0.0107],[31.7,0.0062],[33,0.0044],[34.6,0.0044],[35,0.0038],[35.3,0.002],[35.8,0.003],[36.1,0.0026],[36.9,0.0025],[38.9,0.0026],[39.5,0.0033],[40,0.0033]];
const elb7_r1 = [[0,0.33],[0.23,0.117],[0.9,0.045],[1.7,0.028],[2.5,0.021],[3.15,0.021],[3.8,0.028],[4.6,0.057],[5.1,0.16],[5.4,0.42],[5.6,1.0],[5.9,0.36],[6.4,0.117],[7.4,0.053],[8.7,0.041],[9.65,0.041],[10.8,0.042],[10.95,0.035],[11.1,0.045],[11.33,0.092],[11.5,0.045],[11.65,0.022],[11.9,0.033],[12.6,0.045],[13.9,0.085],[14.5,0.16],[14.9,0.42],[15.2,0.92],[15.65,0.42],[16.3,0.16],[17.1,0.078],[17.4,0.072],[17.75,0.067],[18.7,0.045],[20,0.033],[21.65,0.024],[22.95,0.0173],[23.6,0.0173],[23.9,0.0187],[24.4,0.0148],[24.6,0.0107],[25.1,0.016],[25.9,0.0148],[27.2,0.013],[28.5,0.0148],[29.1,0.020],[29.5,0.028],[29.8,0.020],[30,0.0107],[30.1,0.0057],[30.25,0.0148],[30.6,0.033],[30.8,0.038],[31.4,0.026],[32.4,0.0126],[33.3,0.0085],[34.3,0.0085],[35,0.0091],[35.2,0.0067],[35.6,0.0028],[35.9,0.0041],[36.3,0.0107],[36.8,0.0085],[37.6,0.0035],[38.6,0.0026],[38.9,0.0019],[39.1,0.00099],[39.4,0.0035],[39.7,0.0062],[40,0.0067]];
const elb7_r14 = [[0,0.45],[0.3,0.137],[1,0.062],[2.2,0.038],[3.15,0.030],[4.1,0.045],[5.1,0.117],[5.6,0.30],[5.85,0.85],[6.1,0.62],[6.7,0.19],[7.7,0.085],[9,0.053],[10.3,0.057],[10.95,0.053],[11.27,0.035],[11.65,0.126],[11.9,0.108],[12.2,0.030],[12.7,0.057],[13.9,0.1],[14.7,0.148],[14.9,0.085],[15.15,0.49],[15.4,0.78],[15.8,0.36],[16.5,0.16],[17.4,0.092],[18.4,0.067],[20,0.045],[21.65,0.033],[23.3,0.026],[24.25,0.022],[24.6,0.0126],[25.1,0.020],[26.2,0.0173],[27.2,0.0173],[28.5,0.020],[29.1,0.026],[29.5,0.035],[29.9,0.022],[30.25,0.033],[31.1,0.053],[32,0.035],[33.3,0.016],[34.6,0.0148],[35.4,0.0173],[35.9,0.0107],[36.3,0.0022],[36.6,0.0091],[36.9,0.0187],[37.6,0.0148],[38.4,0.0116],[39.1,0.0107],[39.7,0.0078],[40,0.0091]];

const elb8_r005 = [[0,0.022],[0.15,0.0108],[0.4,0.0073],[0.9,0.0063],[1.85,0.0054],[2.8,0.0047],[3.3,0.0037],[3.6,0.0023],[3.85,0.00108],[4.05,0.00027],[4.25,0.00108],[4.45,0.0032],[4.8,0.0068],[5.1,0.017],[5.35,0.05],[5.5,0.13],[5.7,0.058],[6.1,0.032],[6.7,0.025],[7.7,0.022],[9,0.023],[10.3,0.025],[11.1,0.029],[11.2,0.032],[12.2,0.037],[13.5,0.068],[14.35,0.17],[14.8,0.5],[15.0,0.92],[15.3,0.43],[15.8,0.147],[16.8,0.068],[18.1,0.043],[19.7,0.032],[21.35,0.026],[23.3,0.025],[24.9,0.025],[26.2,0.027],[27.5,0.037],[28.5,0.068],[29.1,0.147],[29.5,0.27],[29.7,0.3],[30.1,0.2],[30.75,0.093],[31.7,0.043],[33.35,0.02],[35,0.0108],[36.6,0.0068],[38.25,0.0047],[40,0.0032]];
const elb8_r05 = [[0,0.15],[0.23,0.068],[0.55,0.04],[1.2,0.023],[1.85,0.016],[2.5,0.0118],[3.15,0.0086],[3.6,0.0058],[3.85,0.0032],[4.0,0.00093],[4.2,0.0023],[4.45,0.004],[4.8,0.0079],[5.2,0.032],[5.4,0.32],[5.7,0.068],[6.1,0.032],[6.7,0.026],[8.0,0.022],[9.3,0.025],[9.65,0.032],[10,0.027],[10.95,0.029],[11.05,0.043],[11.2,0.0147],[11.4,0.032],[12.2,0.04],[13.5,0.079],[14.35,0.2],[14.8,0.58],[15.05,0.92],[15.4,0.43],[15.95,0.17],[16.8,0.086],[18.1,0.05],[19.7,0.037],[20.65,0.032],[21.65,0.029],[22.6,0.027],[23.9,0.032],[24.6,0.027],[25.9,0.028],[26.5,0.032],[27.5,0.04],[28.5,0.079],[29.1,0.17],[29.6,0.32],[30.1,0.2],[30.75,0.1],[31.7,0.05],[33.35,0.023],[34.65,0.016],[35.1,0.0147],[35.4,0.018],[35.65,0.0118],[36,0.0086],[36.9,0.0079],[38.25,0.0058],[38.9,0.0047],[39,0.0032],[39.5,0.0043],[40,0.0047]];
const elb8_r1 = [[0,0.32],[0.23,0.126],[0.7,0.058],[1.5,0.034],[2.5,0.021],[3.15,0.016],[3.5,0.0126],[3.7,0.0073],[3.95,0.0108],[4.2,0.0079],[4.8,0.0086],[5.2,0.027],[5.4,0.147],[5.6,0.23],[5.8,0.147],[6.25,0.058],[6.9,0.034],[8,0.027],[9,0.024],[9.5,0.032],[9.8,0.033],[10.3,0.029],[10.95,0.032],[11.1,0.04],[11.25,0.073],[11.45,0.068],[11.65,0.027],[12.2,0.034],[13.5,0.058],[14.35,0.126],[14.8,0.37],[15.15,0.79],[15.5,0.58],[16.1,0.23],[16.8,0.107],[17.3,0.079],[17.9,0.063],[19.05,0.05],[19.9,0.04],[20.35,0.032],[20.7,0.027],[20.95,0.04],[21.35,0.034],[22.3,0.029],[23.3,0.029],[23.9,0.04],[24.25,0.034],[24.9,0.032],[25.4,0.027],[26.2,0.033],[26.5,0.043],[26.85,0.032],[27.3,0.029],[28.1,0.04],[28.9,0.079],[29.45,0.23],[29.7,0.32],[30.1,0.19],[30.75,0.1],[31.7,0.058],[33,0.032],[34.3,0.017],[35,0.0147],[35.5,0.021],[36,0.0126],[36.25,0.0063],[36.5,0.01],[36.9,0.0115],[37.9,0.0093],[38.7,0.0063],[38.95,0.0043],[39.05,0.0003],[39.2,0.0032],[39.7,0.0079],[40,0.0082]];
const elb8_r14 = [[0,0.5],[0.3,0.2],[0.7,0.093],[1.85,0.043],[2.8,0.027],[3.5,0.017],[3.8,0.0155],[4.45,0.0147],[4.9,0.02],[5.35,0.093],[5.7,0.23],[6.1,0.136],[6.7,0.054],[7.7,0.036],[9,0.032],[9.5,0.046],[10,0.034],[10.95,0.037],[11.2,0.05],[11.35,0.0147],[11.6,0.058],[11.8,0.126],[12.2,0.05],[12.9,0.043],[14.2,0.083],[14.7,0.147],[14.85,0.079],[15.1,0.58],[15.3,0.92],[15.8,0.43],[16.5,0.2],[17.3,0.107],[18.1,0.086],[19.05,0.073],[20,0.058],[20.85,0.04],[21.65,0.043],[22.6,0.034],[23.6,0.046],[24.25,0.04],[25.1,0.043],[25.9,0.036],[26.5,0.037],[27.2,0.046],[27.8,0.043],[28.3,0.046],[28.8,0.068],[29.3,0.16],[29.8,0.29],[30.4,0.17],[31.2,0.058],[32,0.05],[33.35,0.034],[34.65,0.021],[35.3,0.029],[35.6,0.027],[36,0.0108],[36.3,0.0126],[36.6,0.0147],[36.9,0.0068],[37.4,0.0155],[38.2,0.018],[38.9,0.0147],[39.2,0.00147],[39.5,0.0079],[40,0.0126]];

const elb9_r005 = [[0,0.04],[0.15,0.027],[0.55,0.022],[1.2,0.021],[2.5,0.025],[3.8,0.037],[4.6,0.071],[5.1,0.175],[5.4,0.49],[5.55,1.0],[5.75,0.38],[6.1,0.154],[6.7,0.071],[7.7,0.033],[8.7,0.017],[9.3,0.011],[9.65,0.009],[10.1,0.0074],[10.6,0.0057],[10.85,0.0079],[10.95,0.01],[11.1,0.0061],[11.27,0.0036],[11.6,0.0025],[11.85,0.0013],[12.1,0.0006],[12.25,0.00012],[12.4,0.0013],[12.7,0.0036],[13.2,0.0061],[13.9,0.015],[14.35,0.037],[14.7,0.081],[15.0,0.154],[15.15,0.2],[15.5,0.1],[16.1,0.048],[17.1,0.025],[18.1,0.018],[19.7,0.014],[21.35,0.0125],[22.95,0.0125],[24.6,0.014],[26.2,0.018],[27.5,0.025],[28.5,0.042],[29.1,0.092],[29.6,0.23],[29.8,0.26],[30.1,0.175],[30.7,0.071],[31.7,0.037],[33,0.0195],[34.6,0.011],[35.9,0.0079],[37.6,0.0061],[38.9,0.0044],[40,0.0032]];
const elb9_r05 = [[0,0.2],[0.23,0.071],[0.7,0.042],[1.5,0.029],[2.5,0.025],[3.5,0.031],[4.45,0.045],[5.0,0.135],[5.35,0.49],[5.5,0.82],[5.75,0.33],[6.2,0.119],[7.05,0.055],[8,0.029],[9,0.017],[9.3,0.015],[9.6,0.022],[9.8,0.015],[10.1,0.0125],[10.6,0.015],[10.95,0.029],[11.1,0.062],[11.27,0.025],[11.6,0.0116],[11.9,0.0061],[12.4,0.0022],[12.7,0.0009],[12.8,0.0006],[13.05,0.0022],[13.5,0.0061],[14.2,0.011],[14.5,0.015],[14.7,0.029],[15,0.119],[15.15,0.154],[15.5,0.092],[16.1,0.037],[17.1,0.0195],[18.1,0.014],[19.7,0.0132],[20.35,0.0125],[20.5,0.009],[20.7,0.0036],[20.9,0.0103],[21.35,0.0116],[22.95,0.0125],[23.9,0.014],[24.4,0.016],[25.05,0.0125],[25.7,0.0132],[26.2,0.0132],[26.45,0.0061],[26.6,0.0032],[26.8,0.015],[27.2,0.0195],[28.2,0.033],[29,0.071],[29.6,0.175],[29.8,0.23],[30.1,0.154],[30.7,0.066],[31.7,0.037],[33,0.021],[34.6,0.0116],[35.2,0.014],[35.7,0.0097],[36.9,0.0061],[38.5,0.0047],[40,0.0034]];
const elb9_r1 = [[0,0.49],[0.23,0.2],[0.7,0.086],[1.5,0.058],[2.5,0.048],[3.15,0.048],[3.65,0.066],[3.95,0.052],[4.6,0.066],[5.1,0.135],[5.5,0.38],[5.7,1.0],[5.9,0.64],[6.4,0.23],[7.05,0.092],[8,0.037],[8.7,0.025],[9,0.022],[9.3,0.029],[9.5,0.04],[9.8,0.025],[10.3,0.022],[10.8,0.029],[10.95,0.055],[11.05,0.022],[11.2,0.055],[11.45,0.119],[11.65,0.1],[11.9,0.055],[12.25,0.022],[12.7,0.0079],[13.05,0.0041],[13.4,0.0019],[13.7,0.0047],[14,0.0103],[14.35,0.0116],[14.6,0.0125],[14.8,0.037],[15.1,0.092],[15.2,0.175],[15.5,0.1],[16.1,0.042],[16.8,0.027],[17.05,0.029],[17.4,0.017],[17.75,0.0132],[18.1,0.015],[18.6,0.017],[19.4,0.016],[20.35,0.016],[20.7,0.022],[20.95,0.0132],[21.1,0.0014],[21.25,0.0103],[21.65,0.0132],[22.6,0.015],[23.6,0.016],[23.9,0.022],[24.25,0.021],[24.65,0.031],[25.05,0.022],[25.55,0.015],[26,0.014],[26.45,0.0132],[26.6,0.0032],[26.8,0.0195],[27.2,0.025],[28.2,0.033],[29,0.071],[29.45,0.154],[29.8,0.27],[30.25,0.135],[30.55,0.048],[30.9,0.042],[31.55,0.045],[32.4,0.033],[33.7,0.021],[35,0.015],[35.3,0.0195],[35.6,0.017],[35.9,0.018],[36.6,0.0116],[37.6,0.0079],[38.2,0.0065],[38.9,0.0065],[39.5,0.0079],[40,0.0057]];
const elb9_r14 = [[0,0.82],[0.3,0.26],[0.9,0.119],[1.85,0.081],[2.65,0.071],[3.15,0.086],[3.5,0.1],[3.8,0.062],[4.45,0.066],[5.1,0.1],[5.6,0.33],[5.9,1.0],[6.2,0.72],[6.9,0.26],[7.7,0.092],[8.7,0.048],[9.15,0.048],[9.5,0.071],[10,0.037],[10.6,0.035],[10.95,0.042],[11.2,0.037],[11.6,0.092],[11.9,0.135],[12.4,0.081],[12.9,0.025],[13.4,0.0116],[13.9,0.015],[14.35,0.033],[14.6,0.042],[14.85,0.025],[15.15,0.135],[15.4,0.18],[15.8,0.092],[16.5,0.037],[17.3,0.0195],[17.75,0.025],[18.25,0.017],[18.9,0.0195],[19.7,0.018],[20.35,0.018],[21.1,0.033],[21.5,0.0116],[21.85,0.0061],[22.3,0.0116],[22.95,0.016],[23.75,0.025],[24.25,0.029],[24.75,0.042],[25.4,0.029],[26,0.015],[26.35,0.0103],[26.6,0.0041],[26.85,0.0132],[27.2,0.022],[28.2,0.037],[29.1,0.071],[29.45,0.119],[29.85,0.33],[30.25,0.23],[30.7,0.092],[31.4,0.062],[32,0.055],[33,0.042],[34.3,0.027],[35.3,0.029],[35.9,0.037],[36.6,0.035],[37.2,0.027],[38.2,0.015],[38.9,0.0103],[39.3,0.0116],[39.7,0.0103],[40,0.015]];

const elb10_r005 = [[0,0.023],[0.23,0.0153],[0.7,0.0143],[1.85,0.0165],[3.15,0.024],[4.1,0.042],[4.8,0.081],[5.2,0.2],[5.4,0.68],[5.5,1.0],[5.7,0.37],[6.1,0.11],[6.7,0.056],[7.7,0.035],[9,0.024],[10,0.022],[10.8,0.023],[10.95,0.026],[11.1,0.023],[11.9,0.024],[13.2,0.035],[14.2,0.07],[14.7,0.15],[15.0,0.43],[15.15,0.52],[15.5,0.24],[16.1,0.081],[17.1,0.038],[18.4,0.022],[20,0.0132],[21.35,0.0105],[23.3,0.0095],[24.9,0.0097],[26.2,0.0113],[27.5,0.0178],[28.5,0.033],[29.1,0.07],[29.5,0.11],[29.7,0.128],[30.1,0.081],[30.75,0.038],[31.7,0.0178],[33,0.0083],[34.3,0.0045],[35.3,0.0029],[36.6,0.0023],[38.25,0.00157],[40,0.00107]];
const elb10_r05 = [[0,0.088],[0.23,0.038],[0.6,0.021],[1.2,0.0165],[2.2,0.0153],[3.5,0.021],[4.45,0.035],[5.1,0.095],[5.4,0.37],[5.6,0.63],[5.8,0.24],[6.25,0.081],[7.05,0.041],[8.35,0.026],[9.3,0.0198],[10,0.019],[10.8,0.021],[10.95,0.024],[11.1,0.021],[11.9,0.021],[12.9,0.028],[14.2,0.06],[14.7,0.128],[15.05,0.5],[15.2,0.43],[15.6,0.174],[16.4,0.065],[17.4,0.033],[18.7,0.0193],[20.35,0.0113],[20.7,0.0097],[21.35,0.0091],[22.95,0.0083],[23.6,0.0083],[24.1,0.0067],[24.6,0.0081],[25.25,0.0081],[26.2,0.0091],[27.5,0.0153],[28.5,0.028],[29.1,0.056],[29.6,0.11],[30.1,0.076],[30.75,0.035],[31.7,0.0165],[33,0.0077],[34.3,0.0039],[34.95,0.0029],[35.2,0.00157],[35.35,0.0008],[35.6,0.0023],[36.25,0.0021],[37.55,0.0017],[38.85,0.00135],[39.2,0.00107],[39.7,0.00135],[40,0.00107]];
const elb10_r1 = [[0,0.2],[0.23,0.07],[0.7,0.033],[1.5,0.024],[2.5,0.024],[3.5,0.03],[4.45,0.052],[5.1,0.12],[5.4,0.32],[5.6,1.0],[5.9,0.37],[6.4,0.128],[7.4,0.052],[8.35,0.035],[9.3,0.028],[9.65,0.024],[10.6,0.025],[10.95,0.025],[11.05,0.044],[11.17,0.0057],[11.3,0.038],[11.5,0.07],[11.75,0.044],[12.2,0.03],[13.2,0.033],[14.2,0.052],[14.8,0.15],[15.2,0.5],[15.6,0.32],[16.25,0.11],[17.1,0.044],[17.6,0.038],[18.7,0.028],[20,0.0193],[20.7,0.0153],[21,0.0113],[22,0.0122],[23.3,0.0122],[23.8,0.0113],[23.95,0.0077],[24.25,0.0105],[24.65,0.0132],[25.1,0.0097],[25.9,0.0097],[26.85,0.0113],[27.8,0.0153],[28.8,0.033],[29.3,0.081],[29.7,0.12],[30.1,0.081],[30.4,0.065],[30.75,0.056],[31.4,0.03],[32.4,0.0153],[33.35,0.0091],[34.3,0.0057],[35,0.0045],[35.3,0.0053],[35.5,0.0033],[35.7,0.00135],[35.75,0.00043],[36,0.00157],[36.25,0.0025],[36.9,0.0031],[37.55,0.0031],[38.2,0.0027],[38.85,0.0018],[39,0.0015],[39.35,0.0025],[39.7,0.0029],[40,0.0025]];
const elb10_r14 = [[0,0.32],[0.23,0.128],[0.7,0.056],[1.5,0.038],[2.3,0.033],[3.5,0.038],[4.45,0.052],[5.3,0.15],[5.7,0.59],[5.9,1.0],[6.2,0.5],[7.05,0.128],[8.0,0.056],[9,0.038],[9.65,0.033],[10.6,0.033],[11.1,0.038],[11.35,0.0178],[11.55,0.0072],[11.7,0.038],[12.0,0.095],[12.4,0.06],[13.2,0.038],[14.2,0.048],[14.7,0.06],[14.85,0.044],[15.2,0.37],[15.4,0.54],[15.8,0.32],[16.5,0.128],[17.4,0.06],[18.25,0.041],[19.4,0.028],[20.35,0.026],[21,0.021],[22,0.0153],[22.95,0.0165],[23.8,0.0165],[24.1,0.0102],[24.75,0.0193],[25.4,0.0143],[26.2,0.0113],[26.85,0.0132],[27.8,0.0178],[28.5,0.026],[29,0.038],[29.1,0.0165],[29.45,0.06],[29.8,0.15],[30.3,0.095],[30.9,0.081],[31.7,0.044],[32.7,0.021],[33.7,0.0113],[34.5,0.0083],[35,0.0067],[35.3,0.0083],[35.55,0.0089],[35.9,0.0045],[36.25,0.0021],[36.4,0.0011],[36.75,0.0021],[37.2,0.0033],[38.2,0.0039],[38.85,0.0042],[39,0.0029],[39.2,0.00063],[39.45,0.0029],[39.8,0.0045],[40,0.0048]];

const seriesLabels = ["R=0.05", "R=0.5", "R=1", "R=1.4"];
const captions = ["(a) ELB-CA n°1","(b) ELB-CA n°2","(c) ELB-CA n°3","(d) ELB-CA n°4","(e) ELB-CA n°5",
                  "(f) ELB-CA n°6","(g) ELB-CA n°7","(h) ELB-CA n°8","(i) ELB-CA n°9","(j) ELB-CA n°10"];
const xTickValues = [0, 5, 10, 15, 20, 25, 30, 35, 40];
const yAxisMin = [2.0e-5, 1.3e-4, 4.1e-5, 1.62e-5, 2.45e-4, 1.62e-5, 1.97e-5, 2.93e-5, 1.53e-4, 3.2e-5];
const yTicksEvenDecades = [1, 1e-2, 1e-4];
const yTicksAllDecades = [1, 1e-1, 1e-2, 1e-3];
const panelSeries = [
  [elb1_r005, elb1_r05, elb1_r1, elb1_r14],
  [elb2_r005, elb2_r05, elb2_r1, elb2_r14],
  [elb3_r005, elb3_r05, elb3_r1, elb3_r14],
  [elb4_r005, elb4_r05, elb4_r1, elb4_r14],
  [elb5_r005, elb5_r05, elb5_r1, elb5_r14],
  [elb6_r005, elb6_r05, elb6_r1, elb6_r14],
  [elb7_r005, elb7_r05, elb7_r1, elb7_r14],
  [elb8_r005, elb8_r05, elb8_r1, elb8_r14],
  [elb9_r005, elb9_r05, elb9_r1, elb9_r14],
  [elb10_r005, elb10_r05, elb10_r1, elb10_r14]
];

// ---------- DRAWING ----------
const svg = d3.select("#fig");
svg.append("rect").attr("width", 1028).attr("height", 1679).attr("fill", "#fff");

const SANS = "'Liberation Sans', Arial, Helvetica, sans-serif";
const SERIF = "'Liberation Serif', 'Times New Roman', Times, serif";
const colLeft = [54.3, 607.7];
const plotW = 410.7, plotH = 226.7;
const rowTop0 = 15, rowStep = 339.5;
const colors = ["#0000ff", "#008000", "#ff0000", "#00bfbf"];
const widths = [1.2, 1.2, 1.7, 1.1];
const defs = svg.append("defs");

panelSeries.forEach((series, i) => {
  const col = i % 2, row = Math.floor(i / 2);
  const left = colLeft[col], top = rowTop0 + row * rowStep;
  const right = left + plotW, bottom = top + plotH;
  const x = d3.scaleLinear().domain([0, 40]).range([left, right]);
  const y = d3.scaleLog().domain([yAxisMin[i], 1]).range([bottom, top]);
  const yt = yAxisMin[i] > 1e-4 ? yTicksAllDecades : yTicksEvenDecades;
  const g = svg.append("g");

  const clipId = "clip" + i;
  defs.append("clipPath").attr("id", clipId)
    .append("rect").attr("x", left).attr("y", top).attr("width", plotW).attr("height", plotH);

  const dashFor = k => {
    if (k === 3) return "4,2,1.5,2";
    if (k === 2 && i === 0) return "7,1.5,1.5,1.5";
    return null;
  };

  const line = d3.line().x(d => x(d[0])).y(d => y(d[1])).curve(d3.curveMonotoneX);
  const lg = g.append("g").attr("clip-path", `url(#${clipId})`);
  series.forEach((data, k) => {
    lg.append("path").datum(data)
      .attr("d", line)
      .attr("fill", "none")
      .attr("stroke", colors[k])
      .attr("stroke-width", widths[k])
      .attr("stroke-linejoin", "round")
      .attr("stroke-dasharray", dashFor(k));
  });

  const styleAxis = a => { a.select(".domain").remove(); a.attr("font-family", SANS).attr("font-size", 13.5); };
  g.append("g").attr("transform", `translate(0,${bottom})`)
    .call(d3.axisBottom(x).tickValues(xTickValues).tickSizeInner(-4).tickSizeOuter(0).tickPadding(5))
    .call(styleAxis);
  g.append("g").attr("transform", `translate(0,${top})`)
    .call(d3.axisTop(x).tickValues(xTickValues).tickSizeInner(-4).tickSizeOuter(0).tickFormat(""))
    .call(styleAxis);
  g.append("g").attr("transform", `translate(${left},0)`)
    .call(d3.axisLeft(y).tickValues(yt).tickSizeInner(-4).tickSizeOuter(0).tickFormat(""))
    .call(styleAxis);
  g.append("g").attr("transform", `translate(${right},0)`)
    .call(d3.axisRight(y).tickValues(yt).tickSizeInner(-4).tickSizeOuter(0).tickFormat(""))
    .call(styleAxis);

  yt.forEach(v => {
    const e = Math.round(Math.log10(v));
    const t = g.append("text")
      .attr("x", left - 26).attr("y", y(v)).attr("dy", "0.36em")
      .attr("font-family", SANS).attr("font-size", 13.5).attr("fill", "#000");
    t.append("tspan").text("10");
    t.append("tspan").attr("dy", -6).attr("font-size", 9.5).text(String(e));
  });

  g.append("rect").attr("x", left).attr("y", top).attr("width", plotW).attr("height", plotH)
    .attr("fill", "none").attr("stroke", "#000").attr("stroke-width", 1);

  g.append("text")
    .attr("transform", `translate(${left - 35},${(top + bottom) / 2}) rotate(-90)`)
    .attr("text-anchor", "middle")
    .attr("font-family", SANS).attr("font-size", 15).attr("fill", "#0000ff")
    .text("Amplitude");
  g.append("text")
    .attr("x", (left + right) / 2).attr("y", bottom + 28.7)
    .attr("text-anchor", "middle")
    .attr("font-family", SANS).attr("font-size", 15).attr("fill", "#0000ff")
    .text("Fréquence [Hz]");

  const lx = right - 69, ly = top + 1, lw = 67.3, lh = 65.5;
  const leg = g.append("g");
  leg.append("rect").attr("x", lx).attr("y", ly).attr("width", lw).attr("height", lh)
    .attr("fill", "#fff").attr("stroke", "#000").attr("stroke-width", 1.3);
  seriesLabels.forEach((s, k) => {
    const yy = ly + 11.3 + k * 15.3;
    leg.append("line").attr("x1", lx + 2.5).attr("x2", lx + 18.3).attr("y1", yy).attr("y2", yy)
      .attr("stroke", colors[k]).attr("stroke-width", widths[k]).attr("stroke-dasharray", dashFor(k));
    leg.append("text").attr("x", lx + 21.3).attr("y", yy).attr("dy", "0.36em")
      .attr("font-family", SANS).attr("font-size", 13).attr("fill", "#000").text(s);
  });

  g.append("text")
    .attr("x", (left + right) / 2 - 9.5).attr("y", top + 297.5)
    .attr("text-anchor", "middle")
    .attr("font-family", SERIF).attr("font-size", 23).attr("fill", "#000")
    .attr("word-spacing", 5).attr("letter-spacing", 0.7)
    .text(captions[i]);
});
</script>
</body></html>
